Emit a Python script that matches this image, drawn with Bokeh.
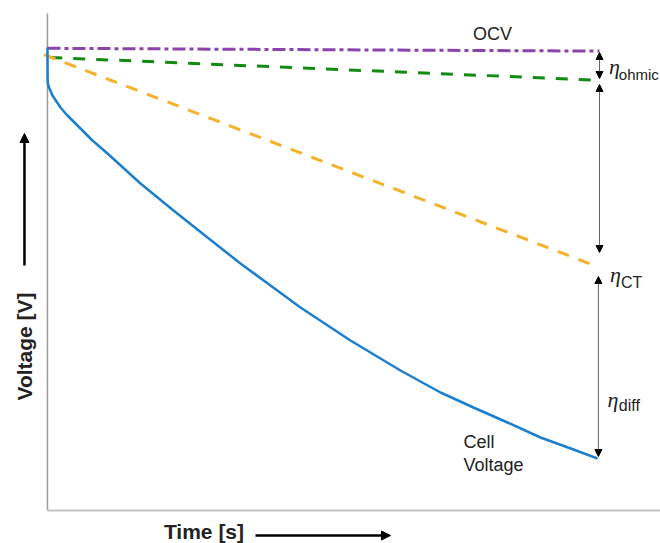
from bokeh.plotting import figure
from bokeh.models import Range1d, Arrow, NormalHead
from bokeh.core.properties import value
from bokeh.embed import file_html
from bokeh.resources import INLINE
import math

# ---- data (time in arbitrary s, voltage in V) ----
t_ocv = [0.0, 100.0]
v_ocv = [4.198, 4.191]

t_ohmic = [0.5, 100.0]
v_ohmic = [4.175, 4.118]

t_ct = [-0.6, 99.1]
v_ct = [4.182, 3.655]

t_cell = [0.0, 0.02, 0.09, 0.36, 0.91, 1.63, 2.36, 3.44, 4.71, 6.34, 8.15,
          10.87, 16.85, 22.83, 28.99, 34.96, 40.4, 45.83, 54.89, 63.95,
          71.20, 77.17, 83.33, 89.31, 95.29, 99.64]
v_cell = [4.200, 4.1225, 4.1075, 4.0975, 4.080, 4.065, 4.050, 4.0325, 4.015,
          3.9925, 3.9675, 3.935, 3.860, 3.7925, 3.725, 3.660, 3.605, 3.550,
          3.4675, 3.3925, 3.3375, 3.300, 3.2625, 3.225, 3.195, 3.1725]

SANS = "Liberation Sans"
SERIF = "Liberation Serif"

p = figure(width=660, height=543, output_backend="svg", toolbar_location=None,
           x_range=Range1d(-8.51, 111.05), y_range=Range1d(2.96, 4.3175),
           x_axis_location=None, y_axis_location=None, min_border=0)
p.grid.visible = False
p.outline_line_color = None
p.background_fill_color = "white"
p.border_fill_color = "white"

# axis lines
p.segment(x0=[0], y0=[4.285], x1=[0], y1=[3.0425], line_color="#999999", line_width=1.5)
p.segment(x0=[0], y0=[3.0425], x1=[111.05], y1=[3.0425], line_color="#c4c4c4", line_width=2)

# curves
p.line(t_ocv, v_ocv, line_color="#8B44AC", line_width=3, line_dash="13 4 4 4")
p.line(t_ohmic, v_ohmic, line_color="#138A13", line_width=3, line_dash="12 11")
p.line(t_ct, v_ct, line_color="#F4B12A", line_width=3, line_dash="12 10")
p.line(t_cell, v_cell, line_color="#1B7FD0", line_width=2.5, line_join="round")

# overpotential double arrows
def dbl(x, y0, y1):
    p.add_layout(Arrow(x_start=x, y_start=y0, x_end=x, y_end=y1,
                       start=NormalHead(size=7, fill_color="black", line_color="black"),
                       end=NormalHead(size=7, fill_color="black", line_color="black"),
                       line_color="#666666", line_width=1))

dbl(100.0, 4.1875, 4.1225)
dbl(100.0, 4.1075, 3.6875)
dbl(99.8, 3.6275, 3.1775)

# axis direction arrows
p.add_layout(Arrow(x_start=37.68, y_start=2.98, x_end=62.14, y_end=2.98,
                   end=NormalHead(size=9, fill_color="black", line_color="black"),
                   line_color="black", line_width=2.5))
p.add_layout(Arrow(x_start=-4.17, y_start=3.655, x_end=-4.17, y_end=3.985,
                   end=NormalHead(size=9, fill_color="black", line_color="black"),
                   line_color="black", line_width=2.5))

# normal labels
p.text(x=[80.62], y=[4.234], text=["OCV"], text_font=value(SANS),
       text_font_size=value("18px"), text_color="#222222",
       text_align="center", text_baseline="middle")
p.text(x=[75.36, 75.36], y=[3.215, 3.1575], text=["Cell", "Voltage"],
       text_font=value(SANS), text_font_size=value("18px"), text_color="#222222",
       text_align="left", text_baseline="middle")

# eta symbols
p.text(x=[101.7, 101.9, 101.45], y=[4.1525, 3.6325, 3.32], text=["η", "η", "η"],
       text_font=value(SERIF), text_font_style="italic", text_font_size=value("22px"),
       text_color="#222222", text_align="left", text_baseline="middle")
p.text(x=[103.5], y=[4.1325], text=["ohmic"],
       text_font=value(SANS), text_font_size=value("15px"), text_color="#222222",
       text_align="left", text_baseline="middle")
p.text(x=[103.9, 103.5], y=[3.6125, 3.306], text=["CT", "diff"],
       text_font=value(SANS), text_font_size=value("16px"), text_color="#222222",
       text_align="left", text_baseline="middle")

# axis titles
p.text(x=[28.35], y=[2.99], text=["Time [s]"], text_font=value(SANS),
       text_font_style="bold", text_font_size=value("21px"), text_color="#222222",
       text_align="center", text_baseline="middle")
p.text(x=[-4.17], y=[3.4525], text=["Voltage [V]"], text_font=value(SANS),
       text_font_style="bold", text_font_size=value("21px"), text_color="#222222",
       text_align="center", text_baseline="middle", angle=math.pi / 2)

open("out.html", "w").write(file_html(p, INLINE))
